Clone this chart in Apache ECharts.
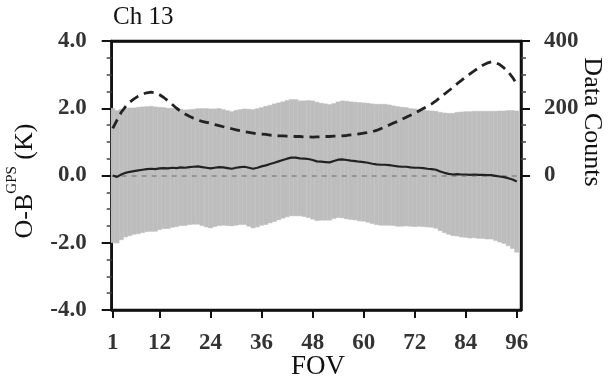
<!DOCTYPE html>
<html>
<head>
<meta charset="utf-8">
<script src="https://cdn.jsdelivr.net/npm/echarts@6/dist/echarts.min.js"></script>
<style>
  html, body { margin: 0; padding: 0; background: #fff; }
  #chart { width: 610px; height: 384px; }
</style>
</head>
<body>
<div id="chart"></div>
<script>
// Field of view positions across the scan
const fovPositions = Array.from({ length: 96 }, (_, i) => i + 1);
const fovTicks = [1, 12, 24, 36, 48, 60, 72, 84, 96];

// Mean O-B bias (K) at each FOV
const meanBias = [
  0.00, -0.04, 0.03, 0.08, 0.11, 0.13, 0.15, 0.17, 0.19, 0.20,
  0.19, 0.21, 0.22, 0.21, 0.23, 0.22, 0.24, 0.23, 0.25, 0.26,
  0.27, 0.25, 0.23, 0.21, 0.23, 0.25, 0.24, 0.22, 0.20, 0.23,
  0.25, 0.26, 0.23, 0.20, 0.23, 0.27, 0.30, 0.34, 0.38, 0.42,
  0.46, 0.50, 0.53, 0.53, 0.51, 0.50, 0.49, 0.46, 0.42, 0.41,
  0.40, 0.39, 0.43, 0.47, 0.48, 0.46, 0.44, 0.43, 0.41, 0.40,
  0.38, 0.35, 0.33, 0.32, 0.32, 0.31, 0.29, 0.27, 0.26, 0.26,
  0.24, 0.23, 0.23, 0.22, 0.20, 0.19, 0.17, 0.12, 0.08, 0.05,
  0.03, 0.04, 0.03, 0.03, 0.02, 0.03, 0.02, 0.02, 0.01, 0.01,
  -0.01, -0.03, -0.05, -0.08, -0.12, -0.18
];

// Standard deviation of O-B (K) at each FOV
const stdDev = [
  2.00, 1.97, 1.94, 1.91, 1.90, 1.88, 1.88, 1.87, 1.86, 1.86,
  1.85, 1.82, 1.80, 1.79, 1.77, 1.74, 1.73, 1.72, 1.71, 1.71,
  1.72, 1.74, 1.76, 1.77, 1.75, 1.74, 1.72, 1.71, 1.70, 1.71,
  1.71, 1.72, 1.74, 1.76, 1.76, 1.75, 1.76, 1.75, 1.75, 1.74,
  1.73, 1.73, 1.73, 1.73, 1.71, 1.72, 1.74, 1.76, 1.76, 1.74,
  1.73, 1.72, 1.71, 1.72, 1.74, 1.75, 1.75, 1.75, 1.76, 1.76,
  1.77, 1.78, 1.79, 1.80, 1.80, 1.79, 1.78, 1.78, 1.77, 1.76,
  1.75, 1.75, 1.74, 1.74, 1.73, 1.73, 1.74, 1.76, 1.78, 1.80,
  1.82, 1.84, 1.86, 1.87, 1.88, 1.88, 1.89, 1.89, 1.90, 1.90,
  1.92, 1.95, 1.97, 2.01, 2.05, 2.10
];

// Number of observations at each FOV
const dataCounts = [
  140, 165, 188, 205, 218, 228, 236, 242, 246, 248,
  246, 240, 232, 222, 211, 200, 191, 183, 176, 170,
  165, 161, 158, 155, 151, 148, 145, 142, 139, 136,
  133, 130, 128, 126, 124, 123, 122, 120, 119, 118,
  118, 117, 117, 116, 116, 115, 115, 114, 115, 115,
  116, 116, 117, 117, 118, 119, 121, 122, 124, 126,
  128, 130, 134, 139, 144, 150, 156, 161, 167, 173,
  179, 185, 192, 199, 206, 213, 222, 232, 242, 252,
  262, 273, 283, 293, 302, 311, 320, 328, 334, 338,
  336, 330, 320, 308, 292, 272
];

const countTickValues = [0, 200, 400];
const countMinorTicks = [50, 100, 150, 250, 300, 350];

const serif = '"Liberation Serif", "Times New Roman", Times, serif';
const ink = '#111';

const chart = echarts.init(document.getElementById('chart'), null, { renderer: 'canvas' });

const option = {
  animation: false,
  backgroundColor: '#ffffff',
  title: {
    text: 'Ch 13',
    left: 113,
    top: 5,
    padding: 0,
    textStyle: { fontFamily: serif, fontSize: 25, fontWeight: 'normal', color: ink }
  },
  grid: {
    left: 111.7, right: 89, top: 41, bottom: 74,
    show: true, borderColor: ink, borderWidth: 2.5, backgroundColor: 'transparent',
    containLabel: false
  },
  xAxis: [
    {
      type: 'value',
      min: 0.75, max: 97,
      position: 'bottom',
      axisLine: { show: true, onZero: false, lineStyle: { color: ink, width: 2.5 } },
      axisTick: { show: true, customValues: fovTicks, length: 8, lineStyle: { color: ink, width: 2 } },
      axisLabel: {
        customValues: fovTicks, margin: 22,
        fontFamily: serif, fontSize: 23, fontWeight: 'bold', color: '#333'
      },
      splitLine: { show: false }
    },
    {
      // top frame edge
      type: 'value',
      min: 0.75, max: 97,
      position: 'top',
      axisLine: { show: true, onZero: false, lineStyle: { color: ink, width: 2.5 } },
      axisTick: { show: false },
      axisLabel: { show: false },
      splitLine: { show: false }
    }
  ],
  yAxis: [
    {
      type: 'value', min: -4, max: 4, interval: 2, position: 'left',
      axisLine: { show: true, onZero: false, lineStyle: { color: ink, width: 2.5 } },
      axisTick: { show: true, length: 10, lineStyle: { color: ink, width: 2 } },
      minorTick: { show: true, splitNumber: 4, length: 5, lineStyle: { color: '#444', width: 1.5 } },
      axisLabel: {
        margin: 25, formatter: v => v.toFixed(1),
        fontFamily: serif, fontSize: 23, fontWeight: 'bold', color: '#333'
      },
      splitLine: { show: false }, minorSplitLine: { show: false }
    },
    {
      type: 'value', min: -400, max: 400, position: 'right',
      axisLine: { show: true, onZero: false, lineStyle: { color: ink, width: 2.5 } },
      axisTick: { show: true, customValues: countTickValues, length: 9, lineStyle: { color: ink, width: 2 } },
      axisLabel: {
        customValues: countTickValues, margin: 23,
        fontFamily: serif, fontSize: 23, fontWeight: 'bold', color: '#333'
      },
      splitLine: { show: false }
    },
    {
      type: 'value', min: -400, max: 400, position: 'right',
      axisLine: { show: false },
      axisTick: { show: true, customValues: countMinorTicks, length: 5, lineStyle: { color: '#444', width: 1.5 } },
      axisLabel: { show: false },
      splitLine: { show: false }
    }
  ],
  graphic: [
    {
      type: 'text', x: 25, y: 181, rotation: Math.PI / 2,
      style: {
        text: '{m|O-B}{s|GPS}{m| (K)}',
        align: 'center', verticalAlign: 'middle', fill: ink,
        rich: {
          m: { fontFamily: serif, fontSize: 26, lineHeight: 40, fill: ink },
          s: { fontFamily: serif, fontSize: 15, lineHeight: 14, verticalAlign: 'top', fill: ink }
        }
      }
    },
    {
      type: 'text', x: 592, y: 122, rotation: -Math.PI / 2,
      style: {
        text: 'Data Counts', align: 'center', verticalAlign: 'middle',
        fontFamily: serif, fontSize: 26, fill: ink
      }
    },
    {
      type: 'text', x: 318, y: 367,
      style: {
        text: 'FOV', align: 'center', verticalAlign: 'middle',
        fontFamily: serif, fontSize: 27, fill: ink
      }
    }
  ],
  series: [
    {
      // mean ± one standard deviation at each FOV
      type: 'custom',
      xAxisIndex: 0, yAxisIndex: 0,
      clip: true,
      z: 1,
      data: fovPositions.map((f, i) => [f, meanBias[i], stdDev[i]]),
      encode: { x: 0, y: 1 },
      renderItem: function (params, api) {
        const x = api.value(0);
        const m = api.value(1);
        const s = api.value(2);
        const top = api.coord([x, m + s]);
        const bottom = api.coord([x, m - s]);
        const w = api.size([1, 0])[0];
        return {
          type: 'rect',
          shape: { x: top[0] - w / 2, y: top[1], width: w, height: bottom[1] - top[1] },
          style: { fill: '#bdbdbd', stroke: '#c1c1c1', lineWidth: 0.5 }
        };
      }
    },
    {
      name: 'Mean O-B',
      type: 'line',
      xAxisIndex: 0, yAxisIndex: 0,
      z: 3,
      data: fovPositions.map((f, i) => [f, meanBias[i]]),
      showSymbol: false,
      lineStyle: { color: '#222', width: 2.2 },
      markLine: {
        silent: true, symbol: 'none', label: { show: false },
        lineStyle: { color: '#888', type: [5, 5], width: 1.5 },
        data: [{ yAxis: 0 }],
        z: 2
      }
    },
    {
      name: 'Data Counts',
      type: 'line',
      xAxisIndex: 0, yAxisIndex: 1,
      z: 4,
      data: fovPositions.map((f, i) => [f, dataCounts[i]]),
      showSymbol: false,
      lineStyle: { color: '#222', width: 2.8, type: [10, 6] }
    }
  ]
};

chart.setOption(option);
</script>
</body>
</html>
